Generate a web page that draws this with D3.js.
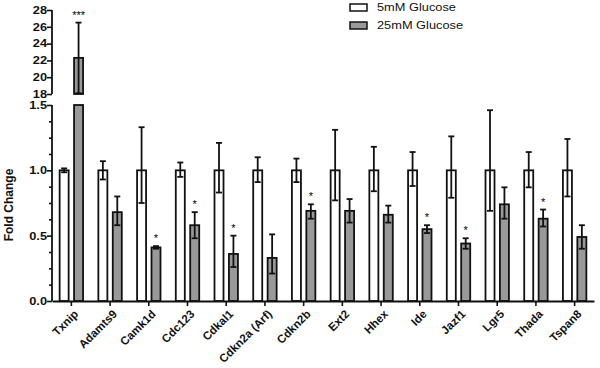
<!DOCTYPE html>
<html>
<head>
<meta charset="utf-8">
<script src="https://cdn.jsdelivr.net/npm/d3@7"></script>
<style>
  body { margin: 0; background: #fff; }
  text { font-family: "Liberation Sans", Arial, sans-serif; }
</style>
</head>
<body>
<div id="wrapper"></div>
<script>
const genes = ["Txnip", "Adamts9", "Camk1d", "Cdc123", "Cdkal1", "Cdkn2a (Arf)", "Cdkn2b",
  "Ext2", "Hhex", "Ide", "Jazf1", "Lgr5", "Thada", "Tspan8"]
const groups = ["5mM Glucose", "25mM Glucose"]

const lowMean = [1.0, 1.0, 1.0, 1.0, 1.0, 1.0, 1.0, 1.0, 1.0, 1.0, 1.0, 1.0, 1.0, 1.0]
const lowUpper = [1.015, 1.07, 1.33, 1.06, 1.21, 1.10, 1.09, 1.31, 1.18, 1.14, 1.26, 1.46, 1.14, 1.24]
const lowLower = [0.985, 0.93, 0.75, 0.95, 0.83, 0.91, 0.91, 0.77, 0.84, 0.88, 0.79, 0.69, 0.87, 0.80]

const highMean = [22.3, 0.68, 0.41, 0.58, 0.36, 0.33, 0.69, 0.69, 0.66, 0.55, 0.44, 0.74, 0.63, 0.49]
const highUpper = [26.5, 0.80, 0.42, 0.68, 0.50, 0.51, 0.74, 0.78, 0.73, 0.58, 0.48, 0.87, 0.70, 0.58]
const highLower = [18.1, 0.58, 0.40, 0.48, 0.26, 0.21, 0.63, 0.60, 0.60, 0.52, 0.40, 0.63, 0.57, 0.40]

const significance = ["***", "", "*", "*", "*", "", "*", "", "", "*", "*", "", "*", ""]

const lowTicks = [0, 0.5, 1.0, 1.5]
const highTicks = [18, 20, 22, 24, 26, 28]

const fills = ["#ffffff", "#999999"]

const width = 600
const height = 368
const axisX = 52
const stretch = 1.22 // the source image is a bit wider than tall

const svg = d3.select("#wrapper")
  .append("svg")
    .attr("width", width)
    .attr("height", height)

// broken y axis: two scales
const yLow = d3.scaleLinear().domain([0, 1.5]).range([301, 105])
const yHigh = d3.scaleLinear().domain([18, 28]).range([94, 10])
const yPos = v => v > 1.5 ? yHigh(v) : yLow(v)

const xScale = d3.scaleBand()
  .domain(genes)
  .range([axisX, 594])

const subScale = d3.scaleBand()
  .domain(groups)
  .range([0, xScale.bandwidth()])
  .paddingInner(0.375)
  .paddingOuter(0.53)

// rows of data
const rows = []
genes.forEach((g, i) => {
  rows.push({gene: g, group: groups[0], mean: lowMean[i], hi: lowUpper[i], lo: lowLower[i], fill: fills[0]})
  rows.push({gene: g, group: groups[1], mean: highMean[i], hi: highUpper[i], lo: highLower[i], fill: fills[1]})
})

const bars = svg.append("g")

// bar segments (split if value beyond the break)
rows.forEach(d => {
  const x = xScale(d.gene) + subScale(d.group)
  const w = subScale.bandwidth()
  const segs = d.mean > 1.5
    ? [[yLow(0), yLow(1.5)], [yHigh(18), yHigh(d.mean)]]
    : [[yLow(0), yLow(d.mean)]]
  segs.forEach(([y0, y1]) => {
    bars.append("rect")
      .attr("x", x)
      .attr("y", y1)
      .attr("width", w)
      .attr("height", y0 - y1)
      .attr("fill", d.fill)
      .attr("stroke", "#111")
      .attr("stroke-width", 1.8)
  })

  // error bars
  const cx = x + w / 2
  const lo = d.mean > 1.5 ? Math.max(d.lo, 18) : d.lo
  bars.append("line")
    .attr("x1", cx).attr("x2", cx)
    .attr("y1", yPos(d.hi)).attr("y2", yPos(lo))
    .attr("stroke", "#111").attr("stroke-width", 1.8)
  ;[d.hi, lo].forEach(v => {
    if (v === 18) return
    bars.append("line")
      .attr("x1", cx - 3).attr("x2", cx + 3)
      .attr("y1", yPos(v)).attr("y2", yPos(v))
      .attr("stroke", "#111").attr("stroke-width", 1.8)
  })
})

// significance stars
svg.append("g")
  .style("opacity", 0.999)
  .selectAll("text")
  .data(genes.map((g, i) => ({gene: g, s: significance[i], top: highUpper[i]})).filter(d => d.s))
  .enter().append("text")
    .attr("x", d => xScale(d.gene) + subScale(groups[1]) + subScale.bandwidth() / 2)
    .attr("y", d => yPos(d.top) - 4)
    .attr("text-anchor", "middle")
    .attr("font-size", 11)
    .attr("fill", "#000")
    .text(d => d.s)

// y axes
const lowAxis = svg.append("g")
  .attr("transform", `translate(${axisX},0)`)
  .call(d3.axisLeft(yLow).tickValues(lowTicks).tickFormat(d3.format(".1f")).tickSize(5).tickSizeOuter(0))
lowAxis.append("g")
  .call(d3.axisLeft(yLow).tickValues(d3.range(0, 1.5, 0.125).filter(v => v % 0.5 !== 0)).tickFormat("").tickSize(3))

const highAxis = svg.append("g")
  .attr("transform", `translate(${axisX},0)`)
  .call(d3.axisLeft(yHigh).tickValues(highTicks).tickFormat(d3.format("d")).tickSize(5).tickSizeOuter(0))

;[lowAxis, highAxis].forEach(a => {
  a.selectAll(".tick line").attr("stroke", "#111").attr("stroke-width", 1.6)
  a.selectAll(".tick text")
    .attr("font-size", 10.5)
    .attr("font-weight", "bold")
    .attr("font-family", "Liberation Sans, Arial, sans-serif")
    .attr("fill", "#111")
    .attr("x", -5 / stretch)
    .attr("transform", `scale(${stretch},1)`)
  a.selectAll(".domain").remove()
})
lowAxis.append("line")
  .attr("x1", 0).attr("x2", 0).attr("y1", yLow(0)).attr("y2", yLow(1.5))
  .attr("stroke", "#111").attr("stroke-width", 1.8)
highAxis.append("line")
  .attr("x1", 0).attr("x2", 0).attr("y1", yHigh(18)).attr("y2", yHigh(28))
  .attr("stroke", "#111").attr("stroke-width", 1.8)

// x axis
const xAxis = svg.append("g")
  .attr("transform", `translate(0,${yLow(0)})`)
  .call(d3.axisBottom(xScale).tickSize(5).tickSizeOuter(0))
xAxis.select(".domain").attr("stroke", "#111").attr("stroke-width", 1.8)
xAxis.selectAll(".tick line").attr("stroke", "#111").attr("stroke-width", 1.6)
xAxis.selectAll(".tick text")
  .attr("font-size", 11.5)
  .attr("font-weight", "bold")
  .attr("font-family", "Liberation Sans, Arial, sans-serif")
  .attr("fill", "#111")
  .attr("text-anchor", "end")
  .attr("transform", "translate(2,8) rotate(-45)")
  .attr("x", 0)
  .attr("y", 0)
  .attr("dy", "0.7em")

// y label
svg.append("text")
  .attr("transform", `translate(13,${(yLow(0) + yLow(1.5)) / 2 + 2}) rotate(-90)`)
  .attr("text-anchor", "middle")
  .attr("font-size", 12)
  .attr("font-weight", "bold")
  .attr("fill", "#111")
  .text("Fold Change")

// legend
const legend = svg.append("g")
groups.forEach((g, i) => {
  legend.append("rect")
    .attr("x", 350).attr("y", 4 + i * 18)
    .attr("width", 17).attr("height", 7)
    .attr("fill", fills[i])
    .attr("stroke", "#111").attr("stroke-width", 1.5)
  legend.append("text")
    .attr("x", 377 / stretch).attr("y", 11.5 + i * 18)
    .attr("transform", `scale(${stretch},1)`)
    .attr("font-size", 10.5)
    .attr("fill", "#111")
    .text(g)
})
</script>
</body>
</html>
